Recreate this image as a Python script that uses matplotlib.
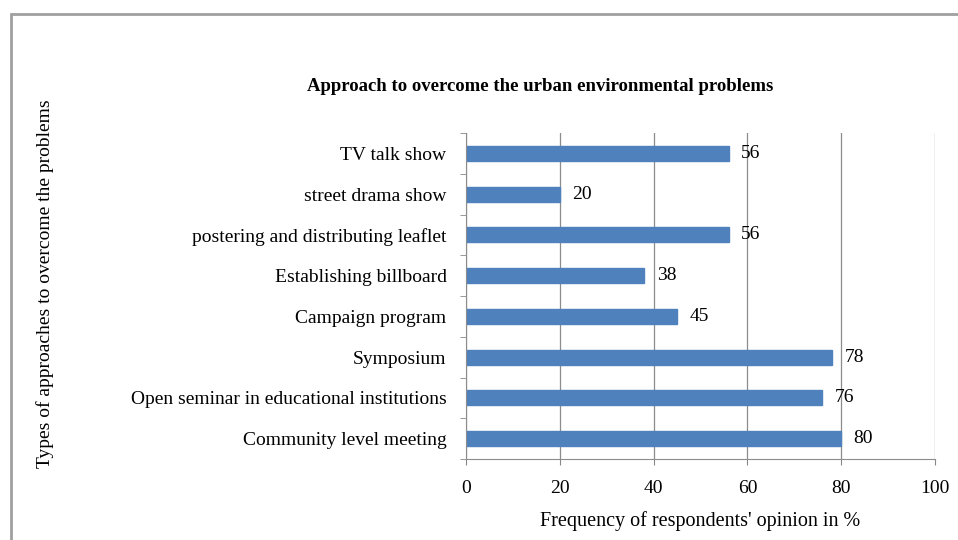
import matplotlib.pyplot as plt
from matplotlib.patches import Rectangle

# data, bottom to top
approaches = ['Community level meeting', 'Open seminar in educational institutions',
              'Symposium', 'Campaign program', 'Establishing billboard',
              'postering and distributing leaflet', 'street drama show', 'TV talk show']
opinion_pct = [80, 76, 78, 45, 38, 56, 20, 56]
xticks = [0, 20, 40, 60, 80, 100]

plt.rcParams['font.family'] = ['Liberation Serif', 'DejaVu Serif']

fig = plt.figure(figsize=(9.58, 5.4), dpi=100)
ax = fig.add_axes([0.4864, 0.15, 0.4896, 0.6037])

ypos = list(range(len(approaches)))
ax.barh(ypos, opinion_pct, height=0.37, color='#4F81BD', edgecolor='#4F81BD')
for y, v in zip(ypos, opinion_pct):
    ax.annotate(str(v), (v, y), xytext=(9, 0), textcoords='offset points',
                va='center', ha='left', fontsize=14)

ax.set_xlim(0, 100)
ax.set_ylim(-0.5, len(approaches) - 0.5)
ax.set_xticks(xticks)
ax.set_xticklabels([str(t) for t in xticks], fontsize=14)
ax.set_yticks(ypos)
ax.set_yticklabels(approaches, fontsize=14)
ax.set_yticks([i + 0.5 for i in range(-1, len(approaches))], minor=True)
ax.tick_params(axis='y', which='major', length=0, pad=14)
ax.tick_params(axis='y', which='minor', length=4, color='#888888', direction='out')
ax.tick_params(axis='x', length=4, color='#888888', pad=11)
ax.grid(axis='x', color='#8c8c8c', linewidth=0.9)
ax.set_axisbelow(True)
for s in ['top', 'right']:
    ax.spines[s].set_visible(False)
for s in ['left', 'bottom']:
    ax.spines[s].set_color('#8c8c8c')

fig.text(0.564, 0.840, 'Approach to overcome the urban environmental problems',
         ha='center', va='center', fontsize=13.5, fontweight='bold')
fig.text(0.731, 0.035, "Frequency of respondents' opinion in %",
         ha='center', va='center', fontsize=14.5)
fig.text(0.047, 0.475, 'Types of approaches to overcome the problems',
         ha='center', va='center', rotation=90, fontsize=14)

# outer frame
fig.patches.append(Rectangle((0.011, -0.1), 1.2, 1.074, transform=fig.transFigure,
                             fill=False, edgecolor='#a0a0a0', linewidth=2))

fig.savefig('out.png', dpi=100)
